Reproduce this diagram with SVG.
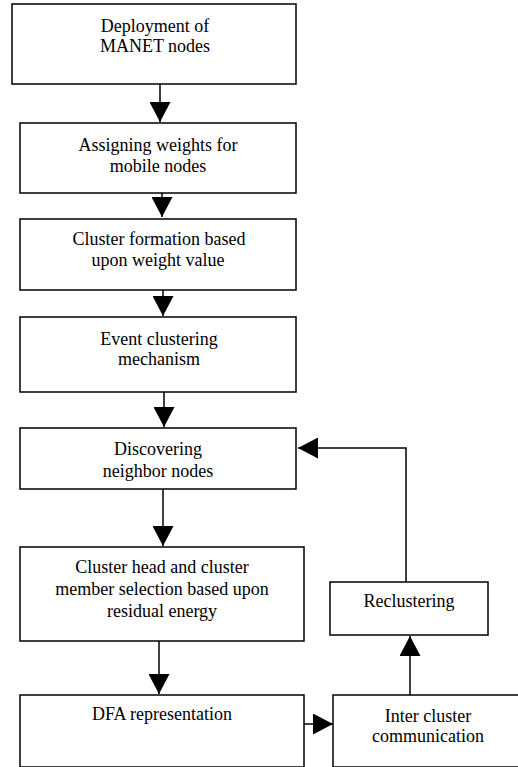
<svg xmlns="http://www.w3.org/2000/svg" width="518" height="767" viewBox="0 0 518 767">
<style>
.box{fill:#fff;stroke:#000;stroke-width:1.5}
.t{font-family:"Liberation Serif","Times New Roman",serif;font-size:18px;fill:#000;text-anchor:middle}
.c{fill:none;stroke:#000;stroke-width:1.5}
</style>
<defs>
<marker id="ah" viewBox="0 0 20 21" markerWidth="20" markerHeight="21" refX="20" refY="10.5" orient="auto" markerUnits="userSpaceOnUse">
<path d="M0,0 L20,10.5 L0,21 Z" fill="#000"/>
</marker>
</defs>
<rect width="518" height="767" fill="#fff"/>
<g id="connectors">
<path class="c" d="M160,84 V122" marker-end="url(#ah)"/>
<path class="c" d="M162,193 V217" marker-end="url(#ah)"/>
<path class="c" d="M163,290 V316" marker-end="url(#ah)"/>
<path class="c" d="M164,392 V427" marker-end="url(#ah)"/>
<path class="c" d="M163,489 V546" marker-end="url(#ah)"/>
<path class="c" d="M159,641 V694" marker-end="url(#ah)"/>
<path class="c" d="M304,724 H333" marker-end="url(#ah)"/>
<path class="c" d="M410,695 V636" marker-end="url(#ah)"/>
<path class="c" d="M406,582 V448 H298" marker-end="url(#ah)"/>
</g>
<g id="n1"><rect class="box" x="12" y="4" width="284" height="80"/>
<text class="t" x="155" y="32">Deployment of</text><text class="t" x="155" y="52">MANET nodes</text></g>
<g id="n2"><rect class="box" x="20" y="123" width="276" height="70"/>
<text class="t" x="158" y="151">Assigning weights for</text><text class="t" x="158" y="172">mobile nodes</text></g>
<g id="n3"><rect class="box" x="20" y="219" width="276" height="71"/>
<text class="t" x="159" y="245">Cluster formation based</text><text class="t" x="158" y="266">upon weight value</text></g>
<g id="n4"><rect class="box" x="20" y="317" width="276" height="75"/>
<text class="t" x="159" y="345">Event clustering</text><text class="t" x="159" y="365">mechanism</text></g>
<g id="n5"><rect class="box" x="20" y="428" width="276" height="61"/>
<text class="t" x="158" y="455">Discovering</text><text class="t" x="158" y="477">neighbor nodes</text></g>
<g id="n6"><rect class="box" x="20" y="547" width="284" height="94"/>
<text class="t" x="162" y="573">Cluster head and cluster</text><text class="t" x="162" y="595">member selection based upon</text><text class="t" x="162" y="617">residual energy</text></g>
<g id="n7"><rect class="box" x="20" y="695" width="284" height="72"/>
<text class="t" x="162" y="720">DFA representation</text></g>
<g id="n8"><rect class="box" x="333" y="695" width="200" height="72"/>
<text class="t" x="428" y="722">Inter cluster</text><text class="t" x="428" y="742">communication</text></g>
<g id="n9"><rect class="box" x="330" y="582" width="158" height="53"/>
<text class="t" x="409" y="607">Reclustering</text></g>
</svg>
